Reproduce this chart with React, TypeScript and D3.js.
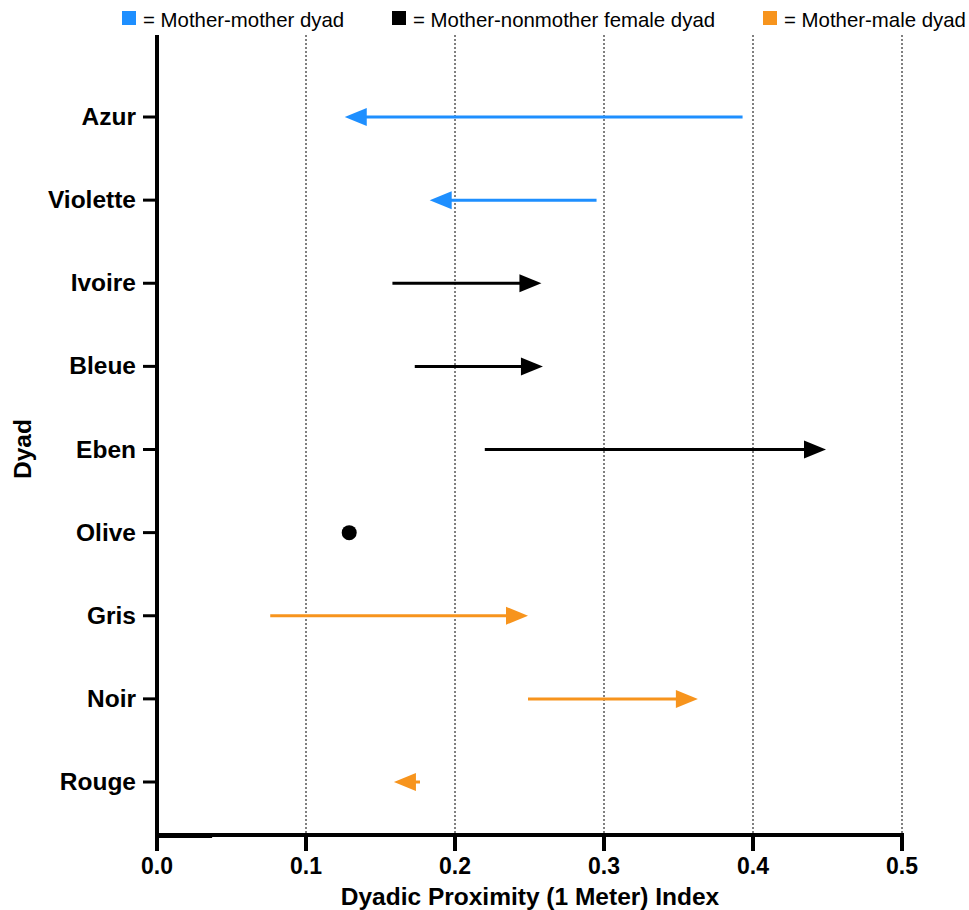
import React from "react";
import * as d3 from "d3";

const dyads = ["Azur", "Violette", "Ivoire", "Bleue", "Eben", "Olive", "Gris", "Noir", "Rouge"];
const startValues = [0.393, 0.295, 0.158, 0.173, 0.22, 0.129, 0.076, 0.249, 0.1765];
const endValues = [0.126, 0.183, 0.258, 0.259, 0.449, 0.129, 0.249, 0.363, 0.159];
const groups = ["mm", "mm", "mf", "mf", "mf", "mf", "mm2", "mm2", "mm2"];
const xTicks = [0, 0.1, 0.2, 0.3, 0.4, 0.5];
const legendItems = [
  { key: "mm", label: "= Mother-mother dyad" },
  { key: "mf", label: "= Mother-nonmother female dyad" },
  { key: "mm2", label: "= Mother-male dyad" },
];
const colors: Record<string, string> = { mm: "#1E8FFF", mf: "#000000", mm2: "#F7941D" };

export default function App() {
  const W = 969, H = 910;
  const left = 157, right = 902, top = 35, bottom = 835;
  const x = d3.scaleLinear().domain([0, 0.5]).range([left, right]);
  const y = d3.scalePoint<string>().domain(dyads).range([117, 782]);
  const font = "Liberation Sans, Arial, Helvetica, sans-serif";
  const headLen = 22, headHalf = 9;
  const legendX = [122, 392, 763];

  return (
    <div style={{ position: "absolute", left: 0, top: 0 }}>
      <svg width={W} height={H} style={{ display: "block", background: "#fff" }} fontFamily={font}>
        {/* legend */}
        {legendItems.map((it, i) => (
          <g key={it.key}>
            <rect x={legendX[i]} y={11} width={14} height={14} fill={colors[it.key]} />
            <text x={legendX[i] + 21} y={27} fontSize={20.4} fill="#000">{it.label}</text>
          </g>
        ))}
        {/* gridlines */}
        {xTicks.filter((t) => t > 0).map((t) => (
          <line key={t} x1={x(t)} x2={x(t)} y1={top} y2={bottom} stroke="#000" strokeWidth={1} strokeDasharray="2,2" />
        ))}
        {/* arrows */}
        {dyads.map((d, i) => {
          const s = x(startValues[i]);
          const e = x(endValues[i]);
          const cy = y(d)!;
          const c = colors[groups[i]];
          if (Math.abs(e - s) < 1) {
            return <circle key={d} cx={s} cy={cy} r={7.5} fill={c} />;
          }
          const dir = e > s ? 1 : -1;
          const base = e - dir * headLen;
          return (
            <g key={d}>
              <line x1={s} x2={base + dir * 2} y1={cy} y2={cy} stroke={c} strokeWidth={3} />
              <polygon points={`${e},${cy} ${base},${cy - headHalf} ${base},${cy + headHalf}`} fill={c} />
            </g>
          );
        })}
        {/* y axis */}
        <line x1={left} x2={left} y1={top} y2={bottom + 2} stroke="#000" strokeWidth={4} />
        {dyads.map((d) => (
          <g key={d}>
            <line x1={left - 14} x2={left} y1={y(d)!} y2={y(d)!} stroke="#000" strokeWidth={3} />
            <text x={left - 21} y={y(d)! + 8} textAnchor="end" fontSize={24.5} fontWeight="bold" fill="#000">{d}</text>
          </g>
        ))}
        {/* x axis */}
        <line x1={left - 2} x2={right + 2} y1={bottom} y2={bottom} stroke="#000" strokeWidth={4} />
        <line x1={left} x2={x(0.037)} y1={bottom + 2} y2={bottom + 2} stroke="#000" strokeWidth={2} />
        {xTicks.map((t) => (
          <g key={t}>
            <line x1={x(t)} x2={x(t)} y1={bottom} y2={bottom + 16} stroke="#000" strokeWidth={4} />
            <text x={x(t)} y={874} textAnchor="middle" fontSize={23} fontWeight="bold" fill="#000">{t.toFixed(1)}</text>
          </g>
        ))}
        <text x={530} y={905} textAnchor="middle" fontSize={24.5} fontWeight="bold" fill="#000">Dyadic Proximity (1 Meter) Index</text>
        <text transform={`translate(31,449) rotate(-90)`} textAnchor="middle" fontSize={24.5} fontWeight="bold" fill="#000">Dyad</text>
      </svg>
    </div>
  );
}
